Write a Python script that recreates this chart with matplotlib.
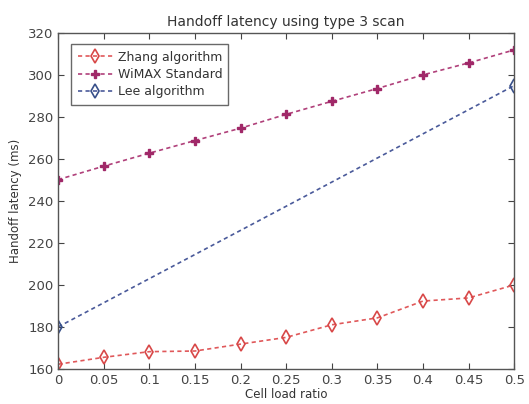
import numpy as np
import matplotlib.pyplot as plt

load = [0, 0.05, 0.1, 0.15, 0.2, 0.25, 0.3, 0.35, 0.4, 0.45, 0.5]
zhang = [162.2, 165.5, 168.2, 168.5, 171.8, 175.0, 181.0, 184.3, 192.3, 193.8, 200.0]
wimax = [250.2, 256.6, 262.8, 268.8, 274.7, 281.3, 287.5, 293.6, 300.1, 305.8, 312.0]
lee_x = [0, 0.5]
lee = [180.0, 295.0]

fig = plt.figure(figsize=(5.29, 4.04), dpi=100)
ax = fig.add_axes([0.110, 0.087, 0.862, 0.831])

dash = (0, (2.5, 2))
ax.plot(load, zhang, linestyle=dash, color='#e0585a', marker='d', mfc='none', mec='#d84848',
        ms=7, mew=1.2, lw=1.2, label='Zhang algorithm')
ax.plot(load, wimax, linestyle=dash, color='#b0407a', marker='P', mfc='#a02868', mec='#a02868',
        ms=5.5, lw=1.2, label='WiMAX Standard')
ax.plot(lee_x, lee, linestyle=dash, color='#4a5a9a', marker='d', mfc='none', mec='#38508a',
        ms=7, mew=1.2, lw=1.2, label='Lee algorithm')

ax.set_xlim(0, 0.5)
ax.set_ylim(160, 320)
ax.set_xticks(load)
ax.set_xticklabels(['0', '0.05', '0.1', '0.15', '0.2', '0.25', '0.3', '0.35', '0.4', '0.45', '0.5'])
ax.set_yticks(np.arange(160, 321, 20))
ax.tick_params(direction='in', top=True, right=True, labelsize=9.5, colors='#444444', length=4)
for s in ax.spines.values():
    s.set_color('#555555')
    s.set_linewidth(1.0)

ax.set_title('Handoff latency using type 3 scan', fontsize=10, color='#333333', pad=5)
ax.set_xlabel('Cell load ratio', fontsize=8.5, color='#333333', labelpad=1)
ax.set_ylabel('Handoff latency (ms)', fontsize=8.5, color='#333333', labelpad=4)

leg = ax.legend(loc='upper left', fontsize=9, frameon=True, fancybox=False,
                edgecolor='#444444', borderpad=0.5, labelspacing=0.35, handlelength=2.8,
                handletextpad=0.4, bbox_to_anchor=(0.015, 0.985))
leg.get_frame().set_linewidth(1.0)
for t in leg.get_texts():
    t.set_color('#333333')

fig.savefig('out.png', dpi=100)
